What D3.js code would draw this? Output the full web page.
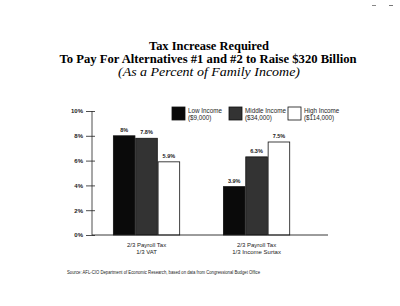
<!DOCTYPE html>
<html><head><meta charset="utf-8">
<script src="https://cdn.jsdelivr.net/npm/d3@7"></script>
<style>body{margin:0;background:#fff}svg{display:block}</style>
</head><body><svg id="c" width="400" height="306"></svg>
<script>
const categories = [["2/3 Payroll Tax","1/3 VAT"],["2/3 Payroll Tax","1/3 Income Surtax"]];
const seriesNames = [["Low Income","($9,000)"],["Middle Income","($34,000)"],["High Income","($114,000)"]];
const lowIncome = [8, 3.9];
const middleIncome = [7.8, 6.3];
const highIncome = [5.9, 7.5];
const valueLabels = [["8%","3.9%"],["7.8%","6.3%"],["5.9%","7.5%"]];
const yTicks = [0,2,4,6,8,10];
const titleLines = ["Tax Increase Required","To Pay For Alternatives #1 and #2 to Raise $320 Billion","(As a Percent of Family Income)"];
const source = "Source: AFL-CIO Department of Economic Research, based on data from Congressional Budget Office";

const series = [lowIncome, middleIncome, highIncome];
const fills = ["#0a0a0a","#333333","#ffffff"];
const svg = d3.select("#c");

// Title
const tf = "'Liberation Serif','Times New Roman',serif";
svg.append("text").attr("x",209).attr("y",49.5).attr("text-anchor","middle")
  .attr("font-family",tf).attr("font-weight","bold").attr("font-size",12.5)
  .attr("textLength",120).attr("lengthAdjust","spacingAndGlyphs").text(titleLines[0]);
svg.append("text").attr("x",208).attr("y",62.5).attr("text-anchor","middle")
  .attr("font-family",tf).attr("font-weight","bold").attr("font-size",12.5)
  .attr("textLength",297).attr("lengthAdjust","spacingAndGlyphs").text(titleLines[1]);
svg.append("text").attr("x",209).attr("y",75.5).attr("text-anchor","middle")
  .attr("font-family",tf).attr("font-style","italic").attr("font-size",12.5)
  .attr("textLength",182).attr("lengthAdjust","spacingAndGlyphs").text(titleLines[2]);

// Scales
const y = d3.scaleLinear().domain([0,10]).range([235,111]);
const x0 = d3.scaleBand().domain(d3.range(categories.length)).range([91,328])
  .paddingInner(0.39).paddingOuter(0.272).align(0.367);
const x1 = d3.scaleBand().domain(d3.range(series.length)).range([0,x0.bandwidth()]);

const sf = "'Liberation Sans Narrow','Liberation Sans',Arial,sans-serif";

// Y axis
const yAxis = d3.axisLeft(y).tickValues(yTicks).tickFormat(d=>d+"%").tickSize(5).tickPadding(4);
const ga = svg.append("g").attr("transform","translate(92,0)").call(yAxis);
ga.select(".domain").attr("d","M0,111V235").attr("stroke","#222").attr("stroke-width",0.8);
ga.selectAll(".tick line").attr("x1",-6).attr("x2",3).attr("stroke","#222").attr("stroke-width",0.8);
ga.selectAll(".tick text").attr("font-family",sf).attr("font-size",6).attr("font-weight","bold").attr("fill","#222");

// Bars
series.forEach((vals,si)=>{
  svg.append("g").selectAll("rect").data(vals).join("rect")
    .attr("x",(d,i)=>x0(i)+x1(si)+0.4)
    .attr("y",d=>y(d))
    .attr("width",x1.bandwidth()-0.8)
    .attr("height",d=>y(0)-y(d))
    .attr("fill",fills[si]).attr("stroke","#111").attr("stroke-width",0.8);
  svg.append("g").selectAll("text").data(vals).join("text")
    .attr("x",(d,i)=>x0(i)+x1(si)+x1.bandwidth()/2)
    .attr("y",d=>y(d)-4)
    .attr("text-anchor","middle").attr("font-family",sf).attr("font-size",5.5).attr("font-weight","bold")
    .attr("fill","#222").text((d,i)=>valueLabels[si][i]);
});

// X baseline
svg.append("line").attr("x1",92).attr("x2",328).attr("y1",y(0)).attr("y2",y(0)).attr("stroke","#222").attr("stroke-width",0.9);

// Category labels
categories.forEach((lines,i)=>{
  lines.forEach((l,j)=>{
    svg.append("text").attr("x",x0(i)+x0.bandwidth()/2).attr("y",247+j*6.5)
      .attr("text-anchor","middle").attr("font-family",sf).attr("font-size",6).attr("fill","#222").text(l);
  });
});

// Legend
const legX = [172,229,288];
seriesNames.forEach((n,i)=>{
  svg.append("rect").attr("x",legX[i]).attr("y",107).attr("width",13).attr("height",13)
    .attr("fill",fills[i]).attr("stroke","#111").attr("stroke-width",0.8);
  n.forEach((l,j)=>{
    svg.append("text").attr("x",legX[i]+16).attr("y",113+j*6.5).attr("font-family",sf)
      .attr("font-size",6.3).attr("fill","#222").text(l);
  });
});

// Source
svg.append("text").attr("x",67).attr("y",274).attr("font-family",sf).attr("font-size",4.5)
  .attr("textLength",193).attr("lengthAdjust","spacingAndGlyphs").attr("fill","#222").text(source);

// scan specks
svg.append("line").attr("x1",372).attr("x2",376).attr("y1",5.5).attr("y2",5.5).attr("stroke","#888").attr("stroke-width",1);
svg.append("line").attr("x1",389).attr("x2",393).attr("y1",5.5).attr("y2",5.5).attr("stroke","#777").attr("stroke-width",1);
</script></body></html>
